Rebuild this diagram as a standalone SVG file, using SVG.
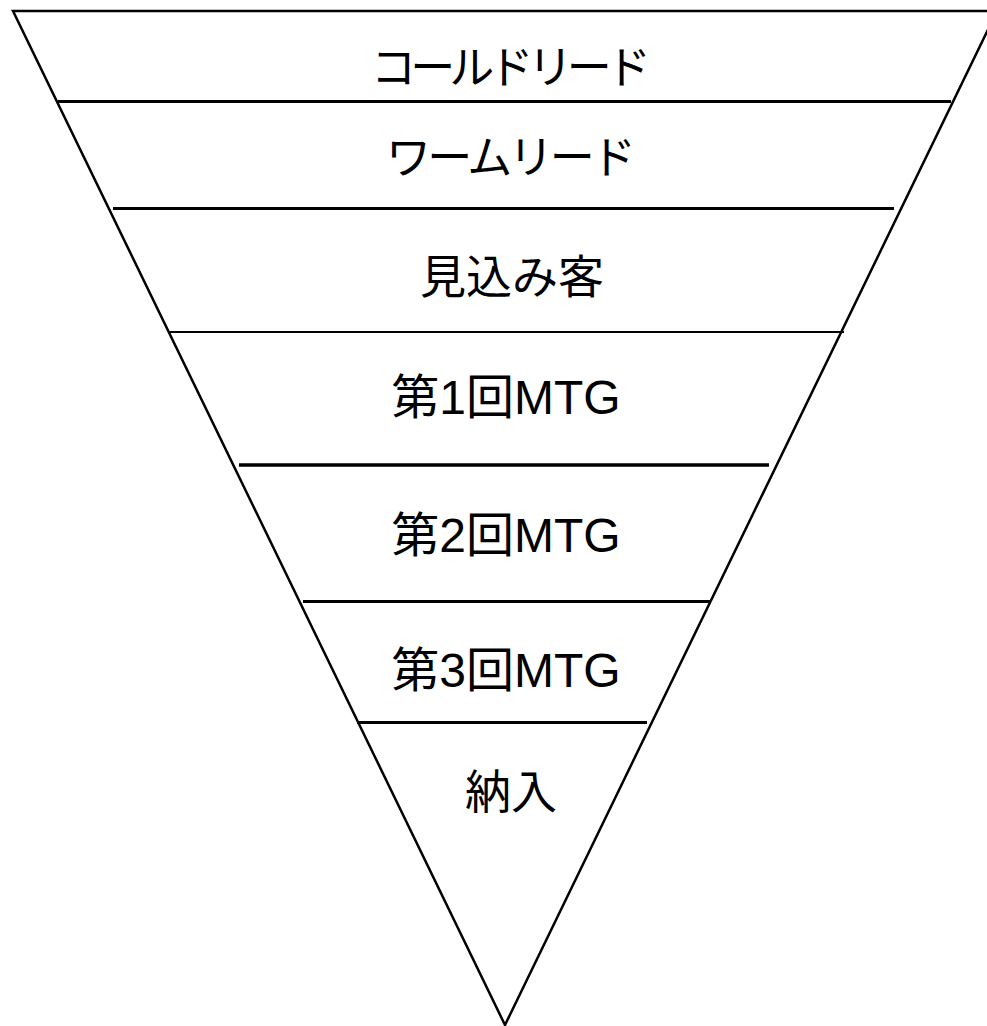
<svg xmlns="http://www.w3.org/2000/svg" width="987" height="1026" viewBox="0 0 987 1026">
<style>
.edge{fill:none;stroke:#000;stroke-width:2.5}
.sep{stroke:#000;stroke-width:3}
.lbl{font-family:"Liberation Sans","Noto Sans CJK JP",sans-serif;font-size:40px;fill:#000;text-anchor:middle}
.kana{font-size:45px}
.big{font-size:46px}
.mtg{font-size:48px}
</style>
<rect width="987" height="1026" fill="#fff"/>
<g id="funnel">
<path class="edge" d="M13,11 L997,11 L505,1025 Z"/>
</g>
<g id="connectors">
<line class="sep" x1="58" y1="101.5" x2="951" y2="101.5"/>
<line class="sep" x1="113" y1="208.5" x2="894" y2="208.5"/>
<line class="sep" x1="170" y1="332" x2="844" y2="332" style="stroke-width:2"/>
<line class="sep" x1="239" y1="465" x2="769" y2="465" style="stroke-width:3.5"/>
<line class="sep" x1="303" y1="601.5" x2="710" y2="601.5"/>
<line class="sep" x1="357" y1="722.5" x2="647" y2="722.5"/>
</g>
<g id="n1"><text class="lbl kana" x="511" y="84" textLength="280" lengthAdjust="spacing">コールドリード</text></g>
<g id="n2"><text class="lbl kana" x="511" y="174" textLength="250" lengthAdjust="spacing">ワームリード</text></g>
<g id="n3"><text class="lbl big" x="512" y="293">見込み客</text></g>
<g id="n4"><text class="lbl mtg" x="506" y="414">第1回MTG</text></g>
<g id="n5"><text class="lbl mtg" x="506" y="552">第2回MTG</text></g>
<g id="n6"><text class="lbl mtg" x="506" y="687">第3回MTG</text></g>
<g id="n7"><text class="lbl big" x="511" y="808">納入</text></g>
</svg>
